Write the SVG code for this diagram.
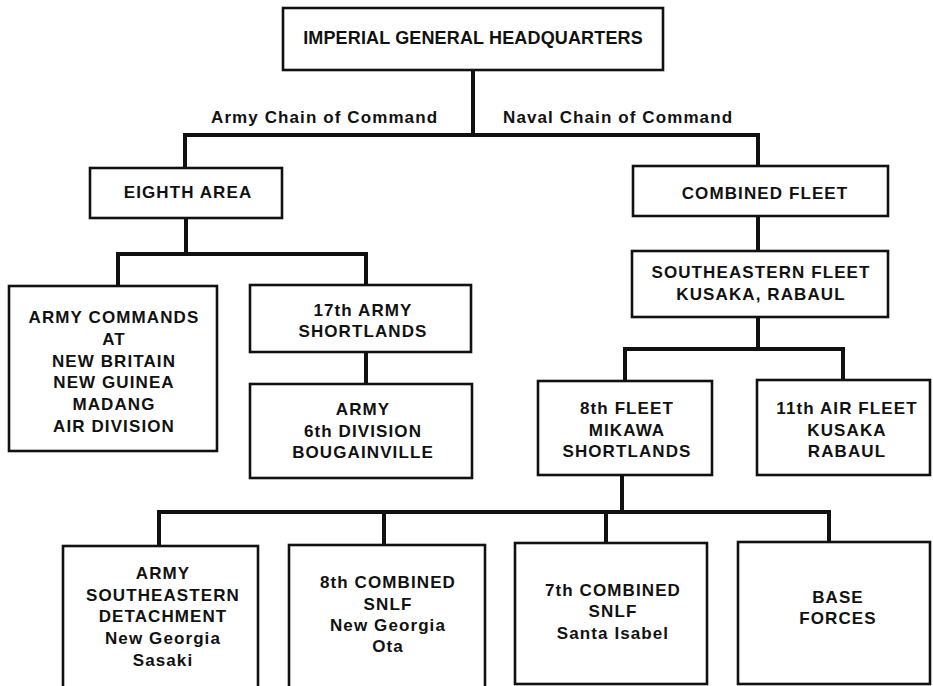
<svg xmlns="http://www.w3.org/2000/svg" width="933" height="686" viewBox="0 0 933 686">
<style>
.box{fill:#fff;stroke:#111;stroke-width:2.6}
.t{font-family:"Liberation Sans",Arial,sans-serif;font-weight:bold;font-size:17px;letter-spacing:1.1px;fill:#111;text-anchor:middle}
.title{font-size:18px;letter-spacing:0.15px}
.lbl{text-anchor:start}
.c{fill:none;stroke:#111;stroke-width:4;stroke-linecap:square}
</style>
<rect width="933" height="686" fill="#fff"/>
<g id="connectors">
<path class="c" d="M473,70 V135 M185,135 H758 M185,135 V168 M758,135 V166"/>
<path class="c" d="M186,218 V254 M118,254 H366 M118,254 V286 M366,254 V285 M366,352 V384"/>
<path class="c" d="M758,216 V251 M758,317 V349 M625,349 H843 M625,349 V381 M843,349 V380"/>
<path class="c" d="M622,475 V512 M159,512 H829 M159,512 V546 M384,512 V545 M606,512 V543 M829,512 V542"/>
<text class="t lbl" x="211" y="123">Army Chain of Command</text>
<text class="t lbl" x="503" y="123">Naval Chain of Command</text>
</g>
<g id="ighq">
<rect class="box" x="283" y="8" width="380" height="62"/>
<text class="t title" x="473" y="44">IMPERIAL GENERAL HEADQUARTERS</text>
</g>
<g id="eighth-area">
<rect class="box" x="90" y="168" width="192" height="50"/>
<text class="t" x="188" y="198">EIGHTH AREA</text>
</g>
<g id="combined-fleet">
<rect class="box" x="633" y="166" width="255" height="50"/>
<text class="t" x="765" y="199">COMBINED FLEET</text>
</g>
<g id="southeastern-fleet">
<rect class="box" x="632" y="251" width="256" height="66"/>
<text class="t" x="761" y="278">SOUTHEASTERN FLEET</text>
<text class="t" x="761" y="300">KUSAKA, RABAUL</text>
</g>
<g id="army-commands">
<rect class="box" x="9" y="286" width="208" height="165"/>
<text class="t" x="114" y="323">ARMY COMMANDS</text>
<text class="t" x="114" y="345">AT</text>
<text class="t" x="114" y="367">NEW BRITAIN</text>
<text class="t" x="114" y="388">NEW GUINEA</text>
<text class="t" x="114" y="410">MADANG</text>
<text class="t" x="114" y="432">AIR DIVISION</text>
</g>
<g id="army-17th">
<rect class="box" x="250" y="285" width="221" height="67"/>
<text class="t" x="363" y="316">17th ARMY</text>
<text class="t" x="363" y="337">SHORTLANDS</text>
</g>
<g id="army-6th-division">
<rect class="box" x="250" y="384" width="222" height="94"/>
<text class="t" x="363" y="415">ARMY</text>
<text class="t" x="363" y="437">6th DIVISION</text>
<text class="t" x="363" y="458">BOUGAINVILLE</text>
</g>
<g id="fleet-8th">
<rect class="box" x="538" y="381" width="174" height="94"/>
<text class="t" x="627" y="414">8th FLEET</text>
<text class="t" x="627" y="436">MIKAWA</text>
<text class="t" x="627" y="457">SHORTLANDS</text>
</g>
<g id="air-fleet-11th">
<rect class="box" x="757" y="380" width="173" height="95"/>
<text class="t" x="847" y="414">11th AIR FLEET</text>
<text class="t" x="847" y="436">KUSAKA</text>
<text class="t" x="847" y="457">RABAUL</text>
</g>
<g id="army-se-detachment">
<rect class="box" x="63" y="546" width="195" height="150"/>
<text class="t" x="163" y="579">ARMY</text>
<text class="t" x="163" y="601">SOUTHEASTERN</text>
<text class="t" x="163" y="622">DETACHMENT</text>
<text class="t" x="163" y="644">New Georgia</text>
<text class="t" x="163" y="666">Sasaki</text>
</g>
<g id="snlf-8th">
<rect class="box" x="289" y="545" width="196" height="150"/>
<text class="t" x="388" y="588">8th COMBINED</text>
<text class="t" x="388" y="610">SNLF</text>
<text class="t" x="388" y="631">New Georgia</text>
<text class="t" x="388" y="652">Ota</text>
</g>
<g id="snlf-7th">
<rect class="box" x="515" y="543" width="192" height="141"/>
<text class="t" x="613" y="596">7th COMBINED</text>
<text class="t" x="613" y="617">SNLF</text>
<text class="t" x="613" y="639">Santa Isabel</text>
</g>
<g id="base-forces">
<rect class="box" x="738" y="542" width="192" height="142"/>
<text class="t" x="838" y="603">BASE</text>
<text class="t" x="838" y="624">FORCES</text>
</g>
</svg>
